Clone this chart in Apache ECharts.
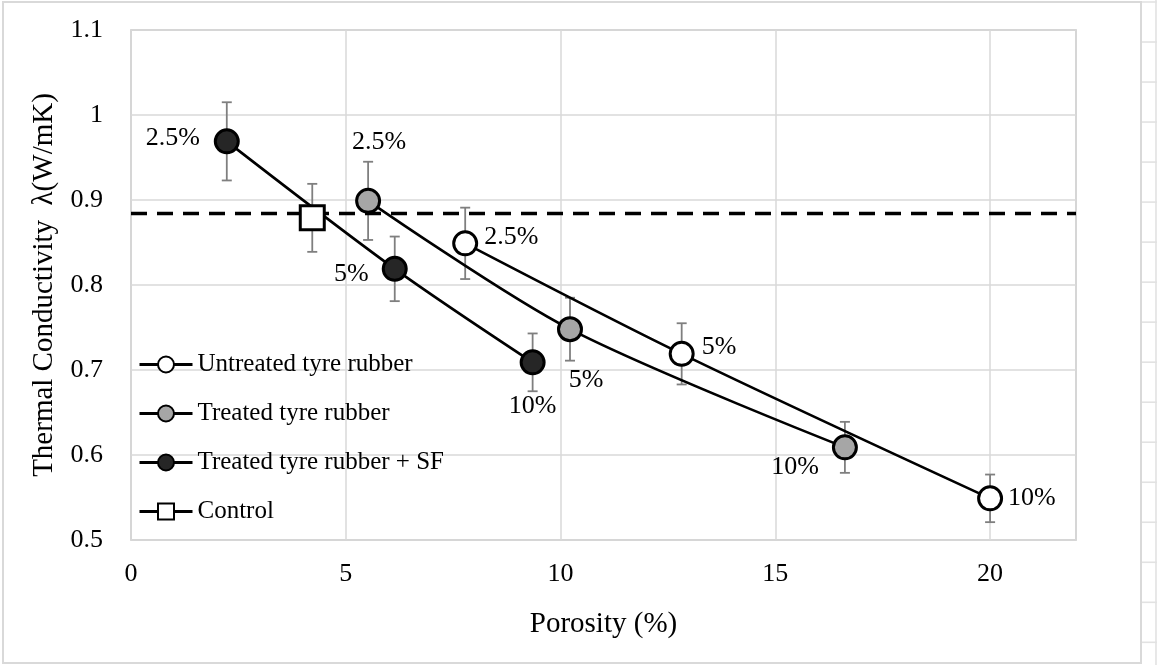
<!DOCTYPE html>
<html>
<head>
<meta charset="utf-8">
<script src="https://cdn.jsdelivr.net/npm/echarts@6/dist/echarts.min.js"></script>
<style>
  html, body { margin: 0; padding: 0; background: #fff; }
  #chart { width: 1157px; height: 665px; }
</style>
</head>
<body>
<div id="chart"></div>
<script>
// Porosity (%) against thermal conductivity (W/mK), with standard deviation
const untreatedPorosity = [7.78, 12.82, 20.0];
const untreatedLambda   = [0.849, 0.719, 0.549];
const untreatedErr      = [0.042, 0.036, 0.028];
const untreatedLabels   = ['2.5%', '5%', '10%'];

const treatedPorosity = [5.52, 10.22, 16.62];
const treatedLambda   = [0.899, 0.748, 0.609];
const treatedErr      = [0.046, 0.037, 0.030];
const treatedLabels   = ['2.5%', '5%', '10%'];

const sfPorosity = [2.23, 6.14, 9.35];
const sfLambda   = [0.969, 0.819, 0.709];
const sfErr      = [0.046, 0.038, 0.034];
const sfLabels   = ['2.5%', '5%', '10%'];

const controlPorosity = [4.22];
const controlLambda   = [0.879];
const controlErr      = [0.040];
const controlLevel    = 0.884;   // reference level of the plain mix

const seriesNames = ['Untreated tyre rubber', 'Treated tyre rubber', 'Treated tyre rubber + SF', 'Control'];
const xRange = [0, 22];
const yRange = [0.5, 1.1];

// where each replacement-level label sits around its marker
const untreatedLabelPos = [
  { position: 'right', distance: 6, offset: [0, -6] },
  { position: 'right', distance: 7, offset: [0, -7] },
  { position: 'right', distance: 5, offset: [0, 0] }
];
const treatedLabelPos = [
  { position: 'top', distance: 33, offset: [11, 0] },
  { position: 'bottom', distance: 25, offset: [16, 0] },
  { position: 'left', distance: 13, offset: [0, 20] }
];
const sfLabelPos = [
  { position: 'left', distance: 14, offset: [0, -3] },
  { position: 'left', distance: 13, offset: [0, 5] },
  { position: 'bottom', distance: 18, offset: [0, 0] }
];

const FONT = '"Liberation Serif", "Times New Roman", serif';
const INK = '#000';

function pointData(xs, ys, labels, pos) {
  return xs.map((x, i) => ({
    value: [x, ys[i]],
    label: Object.assign({ show: true, formatter: labels[i] }, pos[i])
  }));
}

function errorBars(xs, ys, es) {
  return {
    type: 'custom',
    silent: true,
    z: 2,
    data: xs.map((x, i) => [x, ys[i] - es[i], ys[i] + es[i]]),
    encode: { x: 0, y: [1, 2] },
    renderItem: function (params, api) {
      const x = api.value(0);
      const top = api.coord([x, api.value(2)]);
      const bot = api.coord([x, api.value(1)]);
      const w = 5;
      const st = { stroke: '#7f7f7f', lineWidth: 1.8 };
      return {
        type: 'group',
        children: [
          { type: 'line', shape: { x1: top[0], y1: top[1], x2: bot[0], y2: bot[1] }, style: st },
          { type: 'line', shape: { x1: top[0] - w, y1: top[1], x2: top[0] + w, y2: top[1] }, style: st },
          { type: 'line', shape: { x1: bot[0] - w, y1: bot[1], x2: bot[0] + w, y2: bot[1] }, style: st }
        ]
      };
    }
  };
}

function curve(name, xs, ys, labels, pos, fill) {
  return {
    name: name,
    type: 'line',
    z: 4,
    smooth: 0.3,
    symbol: 'circle',
    symbolSize: 23,
    itemStyle: { color: fill, borderColor: INK, borderWidth: 3 },
    lineStyle: { color: INK, width: 2.6 },
    label: { color: INK, fontFamily: FONT, fontSize: 26 },
    emphasis: { disabled: true },
    data: pointData(xs, ys, labels, pos)
  };
}

// spreadsheet cell edges visible beside the chart frame
const cellLines = [];
for (let y = 2; y < 665; y += 40.02) {
  cellLines.push({
    type: 'line', silent: true,
    shape: { x1: 1142, y1: y, x2: 1157, y2: y },
    style: { stroke: '#e2e2e2', lineWidth: 1.6 }
  });
}

const chart = echarts.init(document.getElementById('chart'), null, { renderer: 'canvas' });

chart.setOption({
  backgroundColor: '#fff',
  animation: false,
  graphic: [
    {
      type: 'rect', silent: true, z: -10,
      shape: { x: 3, y: 2, width: 1138, height: 661 },
      style: { fill: 'none', stroke: '#d9d9d9', lineWidth: 2 }
    },
    {
      type: 'line', silent: true,
      shape: { x1: 1156, y1: 0, x2: 1156, y2: 665 },
      style: { stroke: '#e2e2e2', lineWidth: 1.6 }
    }
  ].concat(cellLines),
  grid: {
    left: 131, right: 81, top: 30, bottom: 125,
    show: true, borderColor: '#bfbfbf', borderWidth: 1.5
  },
  legend: {
    orient: 'vertical',
    left: 133, top: 347,
    itemWidth: 53, itemHeight: 20, itemGap: 24,
    data: seriesNames,
    lineStyle: { width: 3 },
    textStyle: { fontFamily: FONT, fontSize: 25, color: INK, lineHeight: 24 },
    selectedMode: false
  },
  xAxis: {
    type: 'value',
    min: xRange[0], max: xRange[1], interval: 5,
    name: 'Porosity (%)',
    nameLocation: 'middle', nameGap: 70,
    nameTextStyle: { fontFamily: FONT, fontSize: 29, color: INK },
    axisLine: { show: false },
    axisTick: { show: false },
    axisLabel: { fontFamily: FONT, fontSize: 26, color: INK, margin: 21, showMaxLabel: false },
    splitLine: { lineStyle: { color: '#d9d9d9', width: 1.5 } }
  },
  yAxis: {
    type: 'value',
    min: yRange[0], max: yRange[1], interval: 0.1,
    name: 'Thermal Conductivity  \u03bb(W/mK)',
    nameLocation: 'middle', nameGap: 72,
    nameTextStyle: { fontFamily: FONT, fontSize: 29, color: INK },
    axisLine: { show: false },
    axisTick: { show: false },
    axisLabel: {
      fontFamily: FONT, fontSize: 26, color: INK, margin: 28,
      formatter: v => String(+v.toFixed(1))
    },
    splitLine: { lineStyle: { color: '#d9d9d9', width: 1.5 } }
  },
  series: [
    errorBars(untreatedPorosity, untreatedLambda, untreatedErr),
    errorBars(treatedPorosity, treatedLambda, treatedErr),
    errorBars(sfPorosity, sfLambda, sfErr),
    errorBars(controlPorosity, controlLambda, controlErr),
    {
      type: 'line', silent: true, z: 3,
      symbol: 'none',
      lineStyle: { color: INK, width: 3.5, type: [16, 10] },
      data: [[xRange[0], controlLevel], [xRange[1], controlLevel]]
    },
    curve(seriesNames[0], untreatedPorosity, untreatedLambda, untreatedLabels, untreatedLabelPos, '#ffffff'),
    curve(seriesNames[1], treatedPorosity, treatedLambda, treatedLabels, treatedLabelPos, '#a6a6a6'),
    curve(seriesNames[2], sfPorosity, sfLambda, sfLabels, sfLabelPos, '#262626'),
    {
      name: seriesNames[3],
      type: 'line',
      z: 5,
      symbol: 'rect',
      symbolSize: 24,
      itemStyle: { color: '#ffffff', borderColor: INK, borderWidth: 3 },
      lineStyle: { color: INK, width: 2.6 },
      emphasis: { disabled: true },
      data: controlPorosity.map((x, i) => [x, controlLambda[i]])
    }
  ]
});
</script>
</body>
</html>
